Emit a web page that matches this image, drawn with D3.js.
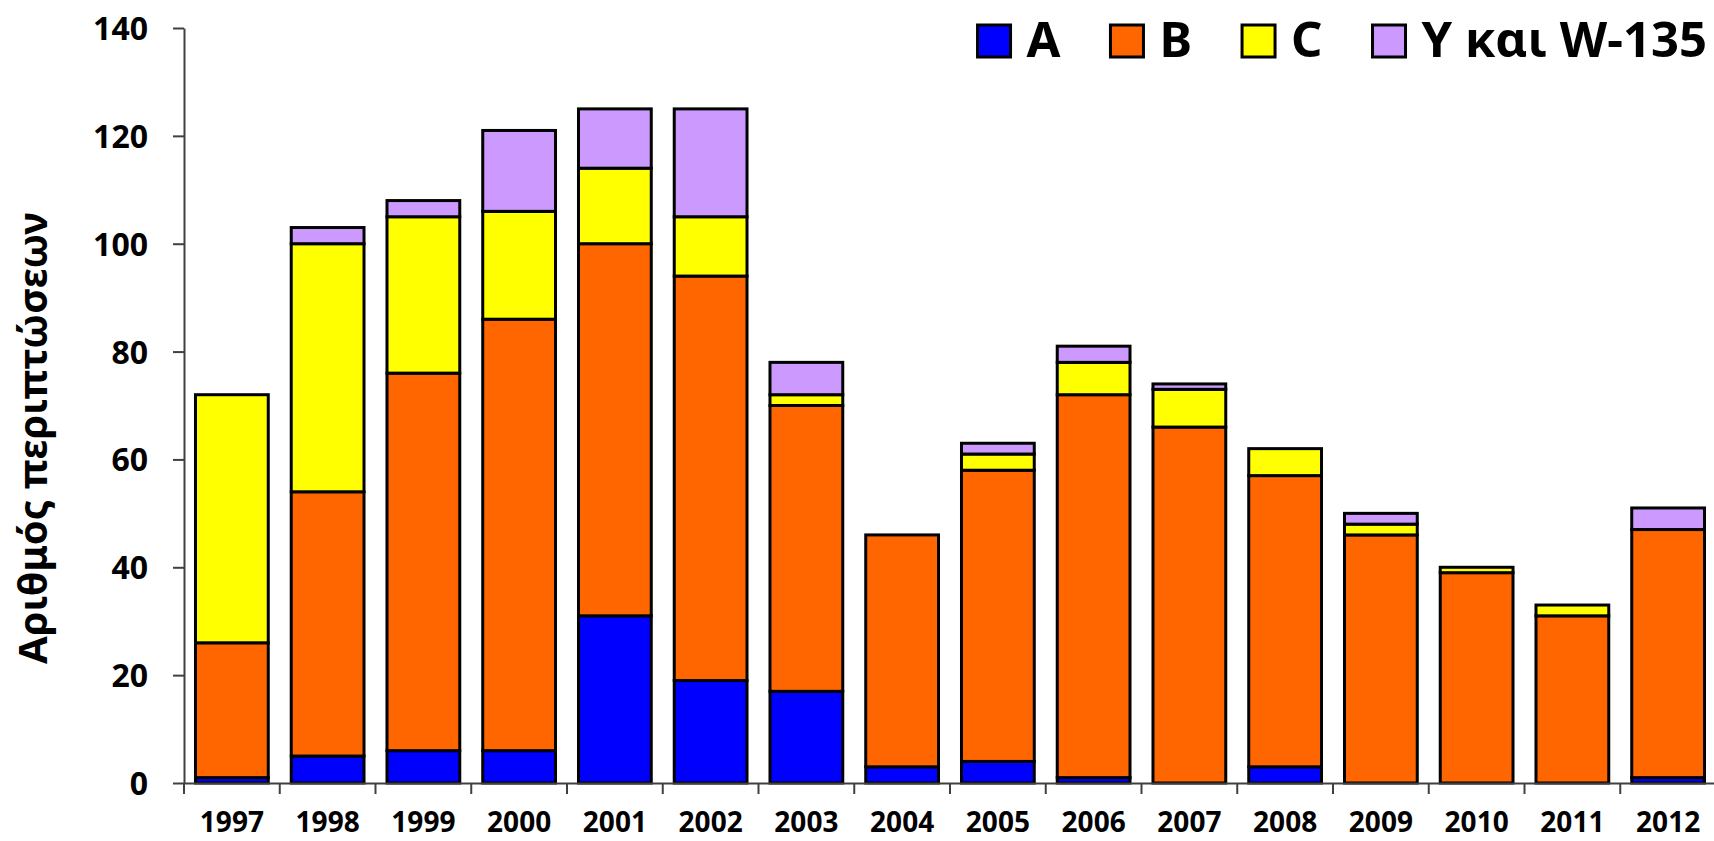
<!DOCTYPE html>
<html>
<head>
<meta charset="utf-8">
<script src="https://cdn.jsdelivr.net/npm/d3@7"></script>
<style>
  html, body { margin: 0; padding: 0; background: #fff; }
  svg { display: block; }
  text { font-family: "Noto Sans", "DejaVu Sans", sans-serif; font-weight: bold; fill: #000; }
</style>
</head>
<body>
<svg id="chart" width="1714" height="841"></svg>
<script>
// ---- data ----
const years = ["1997","1998","1999","2000","2001","2002","2003","2004","2005","2006","2007","2008","2009","2010","2011","2012"];
const seriesA = [1, 5, 6, 6, 31, 19, 17, 3, 4, 1, 0, 3, 0, 0, 0, 1];
const seriesB = [25, 49, 70, 80, 69, 75, 53, 43, 54, 71, 66, 54, 46, 39, 31, 46];
const seriesC = [46, 46, 29, 20, 14, 11, 2, 0, 3, 6, 7, 5, 2, 1, 2, 0];
const seriesD = [0, 3, 3, 15, 11, 20, 6, 0, 2, 3, 1, 0, 2, 0, 0, 4];
const seriesNames = ["A", "B", "C", "Υ και W-135"];
const seriesColors = ["#0000FF", "#FF6600", "#FFFF00", "#CC99FF"];
const yTicks = [0, 20, 40, 60, 80, 100, 120, 140];
const yTitle = "Αριθμός περιπτώσεων";

// ---- layout ----
const svg = d3.select("#chart");
const plotLeft = 184, plotBottom = 783, plotTop = 28, bandStep = 95.75;
const keys = ["a", "b", "c", "d"];
const rows = years.map((yr, i) => ({year: yr, a: seriesA[i], b: seriesB[i], c: seriesC[i], d: seriesD[i]}));

const x = d3.scaleBand().domain(years).range([plotLeft, plotLeft + bandStep * years.length])
  .paddingInner(0.24).paddingOuter(0.12);
const y = d3.scaleLinear().domain([0, 140]).range([plotBottom, plotTop]);

const stacked = d3.stack().keys(keys)(rows);

// bars
const g = svg.append("g");
stacked.forEach((layer, li) => {
  g.selectAll(null)
    .data(layer.filter(d => d[1] - d[0] > 0))
    .enter().append("rect")
    .attr("x", d => x(d.data.year))
    .attr("width", x.bandwidth())
    .attr("y", d => y(d[1]))
    .attr("height", d => y(d[0]) - y(d[1]))
    .attr("fill", seriesColors[li])
    .attr("stroke", "#000")
    .attr("stroke-width", 3);
});

// y axis
const yAxis = svg.append("g").attr("transform", `translate(${plotLeft},0)`)
  .call(d3.axisLeft(y).tickValues(yTicks).tickSize(11).tickPadding(25).tickSizeOuter(0));
yAxis.select(".domain").attr("stroke", "#404040").attr("stroke-width", 2);
yAxis.selectAll(".tick line").attr("stroke", "#404040").attr("stroke-width", 2);
yAxis.selectAll(".tick text").style("font-size", "32px").attr("dy", "0.36em");

// x axis (labels)
const xAxis = svg.append("g").attr("transform", `translate(0,${plotBottom})`)
  .call(d3.axisBottom(x).tickSize(0).tickPadding(29).tickSizeOuter(0));
xAxis.select(".domain").attr("stroke", "#404040").attr("stroke-width", 2);
xAxis.selectAll(".tick text").style("font-size", "28px");
// boundary ticks
const bounds = d3.range(years.length + 1).map(i => plotLeft + i * x.step());
xAxis.selectAll(".btick").data(bounds).enter().append("line")
  .attr("x1", d => d).attr("x2", d => d).attr("y1", 0).attr("y2", 11)
  .attr("stroke", "#404040").attr("stroke-width", 2);

// y title
svg.append("text")
  .attr("transform", `translate(47,438) rotate(-90)`)
  .attr("text-anchor", "middle")
  .style("font-size", "40px")
  .text(yTitle);

// legend (right aligned)
const leg = svg.append("g");
let cursor = 1707;
for (let i = seriesNames.length - 1; i >= 0; i--) {
  const t = leg.append("text").attr("y", 57).style("font-size", "49px").text(seriesNames[i]);
  const w = t.node().getComputedTextLength();
  cursor -= w;
  t.attr("x", cursor);
  cursor -= 16 + 33;
  leg.append("rect").attr("x", cursor).attr("y", 25).attr("width", 33).attr("height", 32)
    .attr("fill", seriesColors[i]).attr("stroke", "#000").attr("stroke-width", 3);
  cursor -= 50;
}
</script>
</body>
</html>
